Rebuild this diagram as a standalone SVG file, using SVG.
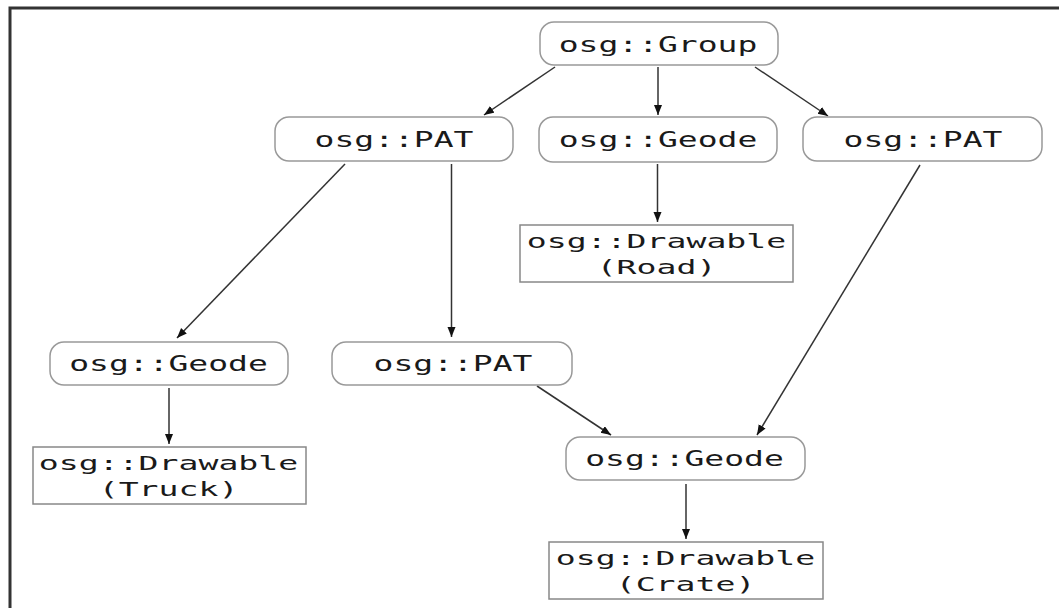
<svg xmlns="http://www.w3.org/2000/svg" width="1059" height="608" viewBox="0 0 1059 608">
<style>
.rn{fill:#fff;stroke:#999;stroke-width:1.5}
.dr{fill:#fff;stroke:#888;stroke-width:1.5}
.t{font-family:"DejaVu Sans Mono","Liberation Mono",monospace;fill:#1a1a1a;text-anchor:middle}
.tr{font-size:22px}
.td{font-size:19.5px}
.e{stroke:#333;stroke-width:1.5;fill:none;marker-end:url(#ah)}
</style>
<defs>
<marker id="ah" markerUnits="userSpaceOnUse" markerWidth="11" markerHeight="9" refX="10" refY="4" orient="auto">
<path d="M0,0 L10,4 L0,8 z" fill="#111"/>
</marker>
</defs>
<rect width="1059" height="608" fill="#fff"/>
<path d="M10,608 V8 H1059" fill="none" stroke="#333" stroke-width="3"/>
<g id="connectors">
<line class="e" x1="555" y1="67" x2="484" y2="115"/>
<line class="e" x1="658" y1="67" x2="658" y2="115"/>
<line class="e" x1="755" y1="67" x2="828" y2="116"/>
<line class="e" x1="345" y1="164" x2="177" y2="338"/>
<line class="e" x1="451.5" y1="164" x2="451.5" y2="337"/>
<line class="e" x1="657.5" y1="164" x2="657.5" y2="222"/>
<line class="e" x1="920" y1="165" x2="757" y2="435"/>
<line class="e" x1="537" y1="386" x2="611" y2="435"/>
<line class="e" x1="169" y1="388" x2="169" y2="444"/>
<line class="e" x1="686" y1="484" x2="686" y2="539"/>
</g>
<g id="group">
<rect class="rn" x="540" y="22" width="238" height="43" rx="14"/>
<text class="t tr" transform="translate(658,51.5) scale(1.5,1)">osg::Group</text>
</g>
<g id="pat1">
<rect class="rn" x="275" y="117" width="238" height="44" rx="14"/>
<text class="t tr" transform="translate(394,146.5) scale(1.5,1)">osg::PAT</text>
</g>
<g id="geode1">
<rect class="rn" x="539" y="117" width="238" height="45" rx="14"/>
<text class="t tr" transform="translate(658,146.5) scale(1.5,1)">osg::Geode</text>
</g>
<g id="pat2">
<rect class="rn" x="803" y="117" width="239" height="44" rx="14"/>
<text class="t tr" transform="translate(923,146.5) scale(1.5,1)">osg::PAT</text>
</g>
<g id="road">
<rect class="dr" x="520" y="225" width="273" height="57"/>
<text class="t td" transform="translate(656.5,247.5) scale(1.7,1)">osg::Drawable</text>
<text class="t td" transform="translate(656.5,274) scale(1.7,1)">(Road)</text>
</g>
<g id="geode2">
<rect class="rn" x="50" y="342" width="238" height="43" rx="14"/>
<text class="t tr" transform="translate(168.5,370.5) scale(1.5,1)">osg::Geode</text>
</g>
<g id="pat3">
<rect class="rn" x="332" y="342" width="240" height="43" rx="14"/>
<text class="t tr" transform="translate(453,370.5) scale(1.5,1)">osg::PAT</text>
</g>
<g id="truck">
<rect class="dr" x="33" y="447" width="273" height="57"/>
<text class="t td" transform="translate(168.5,469.5) scale(1.7,1)">osg::Drawable</text>
<text class="t td" transform="translate(168.5,495.5) scale(1.7,1)">(Truck)</text>
</g>
<g id="geode3">
<rect class="rn" x="566" y="437" width="239" height="43" rx="14"/>
<text class="t tr" transform="translate(684.5,465.5) scale(1.5,1)">osg::Geode</text>
</g>
<g id="crate">
<rect class="dr" x="549" y="542" width="274" height="57"/>
<text class="t td" transform="translate(685.5,564.5) scale(1.7,1)">osg::Drawable</text>
<text class="t td" transform="translate(685.5,590.5) scale(1.7,1)">(Crate)</text>
</g>
</svg>
